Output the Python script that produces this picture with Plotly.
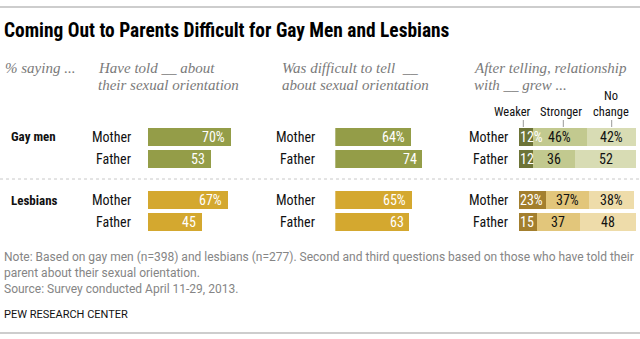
import plotly.graph_objects as go

W, H = 640, 339

# ---- data ----
row_groups = ["Gay men", "Gay men", "Lesbians", "Lesbians"]
row_parents = ["Mother", "Father", "Mother", "Father"]
have_told = [70, 53, 67, 45]
was_difficult = [64, 74, 65, 63]
weaker = [12, 12, 23, 15]
stronger = [46, 36, 37, 37]
no_change = [42, 52, 38, 48]
segment_names = ["Weaker", "Stronger", "No<br>change"]

# ---- layout helpers ----
ypos = [0, 1, 2.84, 3.84]
UNIT = 22.3
Y0 = 136.7
yr = [(H - Y0) / UNIT, -Y0 / UNIT]
BW = 18 / UNIT

GREEN = "#949d48"
GOLD = "#d4a82f"
main_col = [GREEN if g == "Gay men" else GOLD for g in row_groups]
stack_cols = {
    "Gay men": ["#6d7437", "#c2c98f", "#d8dcb4"],
    "Lesbians": ["#a37f2e", "#e2c67b", "#eedcaa"],
}

FONT = "Roboto, Liberation Sans, Arial, sans-serif"
NFONT = "Liberation Sans Narrow, Roboto Condensed, Liberation Sans, sans-serif"
SERIF = "Liberation Serif, DejaVu Serif, serif"

def px(x):
    return x / W

def py(y):
    return 1 - y / H

fig = go.Figure()

fig.add_trace(go.Bar(x=have_told, y=ypos, orientation="h", width=BW,
                     marker=dict(color=main_col, line=dict(width=0)),
                     xaxis="x", yaxis="y", hoverinfo="skip"))
fig.add_trace(go.Bar(x=was_difficult, y=ypos, orientation="h", width=BW,
                     marker=dict(color=main_col, line=dict(width=0)),
                     xaxis="x2", yaxis="y", hoverinfo="skip"))

segs = [weaker, stronger, no_change]
for k, vals in enumerate(segs):
    cols = [stack_cols[g][k] for g in row_groups]
    fig.add_trace(go.Bar(x=vals, y=ypos, orientation="h", width=BW,
                         marker=dict(color=cols, line=dict(width=0)),
                         xaxis="x3", yaxis="y", hoverinfo="skip"))

ann = []
for xa, vals in (("x", have_told), ("x2", was_difficult)):
    for i, v in enumerate(vals):
        t = f"{v}%" if i in (0, 2) else f"{v}"
        ann.append(dict(x=v, y=ypos[i], xref=xa, yref="y", text=t, xanchor="right",
                        xshift=-4, showarrow=False,
                        font=dict(family=NFONT, size=14, color="white")))
for i in range(4):
    cum = 0
    for k, vals in enumerate(segs):
        v = vals[i]
        t = f"{v}%" if i in (0, 2) else f"{v}"
        if k == 0:
            ann.append(dict(x=0, y=ypos[i], xref="x3", yref="y", text=t,
                            xanchor="left", xshift=-1, showarrow=False,
                            font=dict(family=NFONT, size=14, color="white")))
        else:
            ann.append(dict(x=cum + v / 2, y=ypos[i], xref="x3", yref="y", text=t,
                            xanchor="center", showarrow=False,
                            font=dict(family=NFONT, size=14, color="#111")))
        cum += v
for xa, sh in (("x", -15), ("x2", -18), ("x3", -9)):
    for i, p in enumerate(row_parents):
        ann.append(dict(x=0, y=ypos[i], xref=xa, yref="y", text=p, xanchor="right",
                        xshift=sh, showarrow=False,
                        font=dict(family=NFONT, size=14, color="#111")))
for i, g in enumerate(row_groups):
    if row_parents[i] == "Mother":
        ann.append(dict(x=px(9), y=ypos[i], xref="paper", yref="y",
                        text=f"<b>{g}</b>", xanchor="left", showarrow=False,
                        font=dict(family=NFONT, size=13, color="#111")))

# segment legend labels
seg_label_x = [512, 561, 611]
seg_tick_x = [523.3, 563.3, 611.7]
for name, sx in zip(segment_names, seg_label_x):
    ann.append(dict(x=px(sx), y=py(120), xref="paper", yref="paper",
                    text=name, xanchor="center", yanchor="bottom", showarrow=False,
                    borderpad=0, align="center",
                    font=dict(family=NFONT, size=12.5, color="#111")))

ann.append(dict(x=px(2), y=py(30), xref="paper", yref="paper",
                text="<b>Coming Out to Parents Difficult for Gay Men and Lesbians</b>",
                xanchor="left", yanchor="middle", showarrow=False,
                font=dict(family=NFONT, size=19.4, color="#000")))
headers = [
    (3, ["% saying ..."]),
    (96, ["Have told __ about", "their sexual orientation"]),
    (280, ["Was difficult to tell  __", "about sexual orientation"]),
    (472, ["After telling, relationship", "with __ grew ..."]),
]
for hx, hl in headers:
    for j, ht in enumerate(hl):
        ann.append(dict(x=px(hx), y=py(68 + 16.5 * j), xref="paper", yref="paper", text=ht,
                        xanchor="left", yanchor="middle", align="left", showarrow=False,
                        font=dict(family=SERIF, size=15, color="#7a7a7a", style="italic")))

notes = [
    (257, "Note: Based on gay men (n=398) and lesbians (n=277). Second and third questions based on those who have told their"),
    (273, "parent about their sexual orientation."),
    (289, "Source: Survey conducted April 11-29, 2013."),
]
for ny, nt in notes:
    ann.append(dict(x=px(2), y=py(ny), xref="paper", yref="paper", text=nt,
                    xanchor="left", yanchor="middle", showarrow=False,
                    font=dict(family=FONT, size=12, color="#858585")))
ann.append(dict(x=px(2), y=py(314), xref="paper", yref="paper", text="PEW RESEARCH CENTER",
                xanchor="left", yanchor="middle", showarrow=False,
                font=dict(family=FONT, size=11, color="#111")))

shapes = [
    dict(type="line", xref="paper", yref="paper", x0=0, x1=1, y0=py(7), y1=py(7),
         line=dict(color="#bdbdbd", width=1.5)),
    dict(type="line", xref="paper", yref="paper", x0=0, x1=1, y0=py(333), y1=py(333),
         line=dict(color="#bdbdbd", width=1.5)),
    dict(type="line", xref="paper", yref="paper", x0=0, x1=1, y0=py(179), y1=py(179),
         line=dict(color="#c8c8c8", width=1, dash="dot")),
]
for sx in seg_tick_x:
    shapes.append(dict(type="line", xref="paper", yref="paper", x0=px(sx), x1=px(sx),
                       y0=py(120), y1=py(127), line=dict(color="#999", width=1)))

ax = dict(visible=False, range=[0, 100], fixedrange=True)
fig.update_layout(
    width=W, height=H, margin=dict(l=0, r=0, t=0, b=0),
    paper_bgcolor="white", plot_bgcolor="white",
    barmode="stack", bargap=0, showlegend=False,
    xaxis=dict(ax, domain=[px(148), px(148 + 119)]),
    xaxis2=dict(ax, domain=[px(335.3), px(335.3 + 118)]),
    xaxis3=dict(ax, domain=[px(518.7), px(636)]),
    yaxis=dict(visible=False, range=yr, domain=[0, 1], fixedrange=True),
    annotations=ann, shapes=shapes,
)

fig.write_html("out.html", config={"displayModeBar": False})
